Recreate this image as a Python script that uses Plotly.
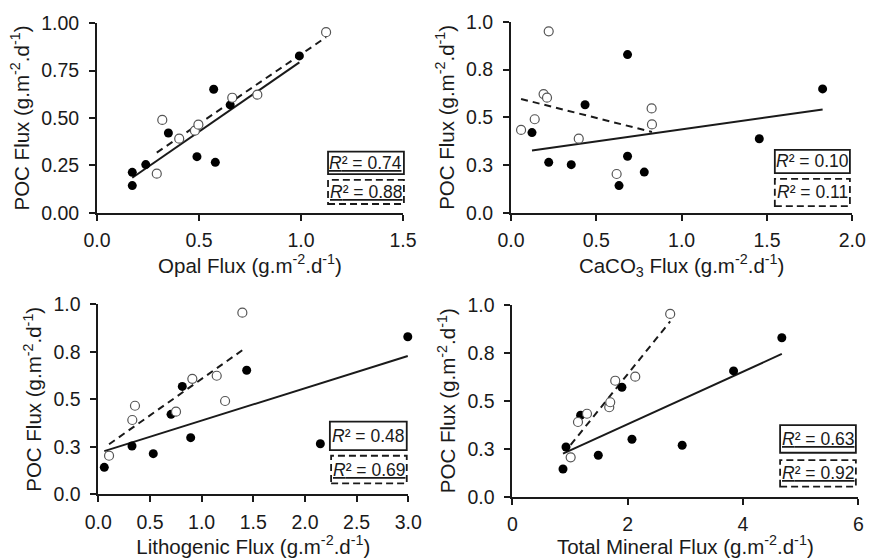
import numpy as np
import plotly.graph_objects as go

# POC flux (g m-2 d-1) against four mineral fluxes.
# "filled" = solid markers / solid regression, "open" = hollow markers / dashed regression.
opal_filled_x = [0.173, 0.173, 0.239, 0.350, 0.490, 0.580, 0.572, 0.653, 0.992]
opal_filled_y = [0.213, 0.143, 0.254, 0.421, 0.296, 0.266, 0.652, 0.569, 0.828]
opal_open_x = [0.293, 0.320, 0.403, 0.480, 0.497, 0.663, 0.786, 1.123]
opal_open_y = [0.206, 0.490, 0.391, 0.433, 0.465, 0.607, 0.623, 0.953]

caco3_filled_x = [0.123, 0.221, 0.353, 0.434, 0.683, 0.633, 0.683, 0.781, 1.455, 1.826]
caco3_filled_y = [0.420, 0.264, 0.252, 0.566, 0.296, 0.142, 0.829, 0.213, 0.388, 0.649]
caco3_open_x = [0.221, 0.191, 0.211, 0.139, 0.059, 0.397, 0.824, 0.826, 0.619]
caco3_open_y = [0.951, 0.622, 0.603, 0.490, 0.434, 0.388, 0.547, 0.463, 0.203]

litho_filled_x = [0.058, 0.326, 0.532, 0.704, 0.813, 0.894, 1.436, 2.149, 2.995]
litho_filled_y = [0.142, 0.254, 0.214, 0.421, 0.568, 0.298, 0.653, 0.266, 0.829]
litho_open_x = [0.104, 0.329, 0.355, 0.752, 0.910, 1.146, 1.227, 1.394]
litho_open_y = [0.203, 0.391, 0.466, 0.435, 0.608, 0.624, 0.491, 0.956]

mineral_filled_x = [0.879, 0.931, 1.185, 1.491, 1.901, 2.075, 2.946, 3.837, 4.674]
mineral_filled_y = [0.144, 0.259, 0.424, 0.216, 0.570, 0.299, 0.268, 0.655, 0.828]
mineral_open_x = [1.012, 1.139, 1.295, 1.681, 1.698, 1.785, 2.132, 2.738]
mineral_open_y = [0.205, 0.389, 0.432, 0.466, 0.492, 0.604, 0.625, 0.952]

# Coefficients of determination printed in each panel
r2_solid = ["0.74", "0.10", "0.48", "0.63"]
r2_dashed = ["0.88", "0.11", "0.69", "0.92"]

# Axis titles and tick labels
x_titles = [
    "Opal Flux (g.m<sup>-2</sup>.d<sup>-1</sup>)",
    "CaCO<sub>3</sub> Flux (g.m<sup>-2</sup>.d<sup>-1</sup>)",
    "Lithogenic Flux (g.m<sup>-2</sup>.d<sup>-1</sup>)",
    "Total Mineral Flux (g.m<sup>-2</sup>.d<sup>-1</sup>)",
]
y_title = "POC Flux (g.m<sup>-2</sup>.d<sup>-1</sup>)"
y_tickvals = [0.0, 0.25, 0.5, 0.75, 1.0]
y_ticktext_fine = ["0.00", "0.25", "0.50", "0.75", "1.00"]
y_ticktext_coarse = ["0.0", "0.3", "0.5", "0.8", "1.0"]
x_max = [1.5, 2.0, 3.0, 6.0]
x_dtick = [0.5, 0.5, 0.5, 2]

FONT = "Liberation Sans, Arial, sans-serif"
INK = "#1a1a1a"
W, H = 869, 558

panels = [
    dict(fx=opal_filled_x, fy=opal_filled_y, ox=opal_open_x, oy=opal_open_y,
         px=(97, 403), py=(23.3, 212.7), ul=(True, True), yt=y_ticktext_fine, xfmt=".1f"),
    dict(fx=caco3_filled_x, fy=caco3_filled_y, ox=caco3_open_x, oy=caco3_open_y,
         px=(511, 852.3), py=(22, 212.7), ul=(False, False), yt=y_ticktext_coarse, xfmt=".1f"),
    dict(fx=litho_filled_x, fy=litho_filled_y, ox=litho_open_x, oy=litho_open_y,
         px=(98.3, 408.3), py=(304.3, 494.3), ul=(False, True), yt=y_ticktext_coarse, xfmt=".1f"),
    dict(fx=mineral_filled_x, fy=mineral_filled_y, ox=mineral_open_x, oy=mineral_open_y,
         px=(512.3, 858.3), py=(304.7, 496.7), ul=(True, True), yt=y_ticktext_coarse, xfmt="d"),
]

# R² box placement inside each plot area (fractions of the axis domain)
box_solid = [(0.755, 1.003, 0.204, 0.322), (0.773, 0.993, 0.208, 0.329),
             (0.747, 0.995, 0.233, 0.382), (0.774, 0.993, 0.229, 0.373)]
box_dashed = [(0.755, 1.003, 0.046, 0.173), (0.773, 0.993, 0.035, 0.177),
              (0.751, 0.995, 0.058, 0.203), (0.774, 0.993, 0.052, 0.191)]

fig = go.Figure()
layout = dict(
    width=W, height=H, margin=dict(l=0, r=0, t=0, b=0),
    paper_bgcolor="white", plot_bgcolor="white", showlegend=False,
    font=dict(family=FONT, color=INK, size=18),
)
shapes, annotations = [], []


def fit_line(xs, ys):
    xs = np.asarray(xs, float)
    ys = np.asarray(ys, float)
    slope, icpt = np.polyfit(xs, ys, 1)
    xe = np.array([xs.min(), xs.max()])
    return xe, slope * xe + icpt


for i, p in enumerate(panels):
    n = "" if i == 0 else str(i + 1)
    xa, ya = "x" + n, "y" + n

    # regression lines (under the markers)
    lx, ly = fit_line(p["fx"], p["fy"])
    fig.add_trace(go.Scatter(x=lx, y=ly, mode="lines", xaxis=xa, yaxis=ya,
                             line=dict(color=INK, width=2), hoverinfo="skip"))
    lx, ly = fit_line(p["ox"], p["oy"])
    fig.add_trace(go.Scatter(x=lx, y=ly, mode="lines", xaxis=xa, yaxis=ya,
                             line=dict(color=INK, width=2, dash="7px,5px"), hoverinfo="skip"))

    fig.add_trace(go.Scatter(x=p["fx"], y=p["fy"], mode="markers", xaxis=xa, yaxis=ya,
                             cliponaxis=False,
                             marker=dict(size=9, color="black", line=dict(width=0))))
    fig.add_trace(go.Scatter(x=p["ox"], y=p["oy"], mode="markers", xaxis=xa, yaxis=ya,
                             cliponaxis=False,
                             marker=dict(size=9, color="white", line=dict(width=1.2, color="#555"))))

    axis_common = dict(showline=True, linecolor=INK, linewidth=1.8, ticks="outside",
                       ticklen=6, tickwidth=1.8, tickcolor=INK, showgrid=False,
                       zeroline=False, automargin=False, fixedrange=True,
                       tickfont=dict(family=FONT, size=19.5, color=INK))
    layout["xaxis" + n] = dict(
        axis_common, anchor=ya, range=[0, x_max[i]], dtick=x_dtick[i], tick0=0,
        tickformat=p["xfmt"], ticklabelstandoff=3,
        domain=[p["px"][0] / W, p["px"][1] / W],
        title=dict(text=x_titles[i], font=dict(family=FONT, size=20.5, color=INK), standoff=3),
    )
    layout["yaxis" + n] = dict(
        axis_common, anchor=xa, range=[0, 1],
        tickvals=y_tickvals, ticktext=p["yt"], ticklabelstandoff=6,
        domain=[1 - p["py"][1] / H, 1 - p["py"][0] / H],
        title=dict(text=y_title, font=dict(family=FONT, size=20.5, color=INK), standoff=6),
    )

    # R² boxes: solid for the filled series, dashed for the open series
    for (x0, x1, y0, y1), dash, val, ul in (
        (box_solid[i], "solid", r2_solid[i], p["ul"][0]),
        (box_dashed[i], "dash", r2_dashed[i], p["ul"][1]),
    ):
        shapes.append(dict(type="rect", xref=xa + " domain", yref=ya + " domain",
                           x0=x0, x1=x1, y0=y0, y1=y1,
                           line=dict(color=INK, width=1.8,
                                     dash="7px,4px" if dash == "dash" else "solid"),
                           fillcolor="white", layer="above"))
        txt = "<i>R</i>² = " + val
        if ul:
            txt = "<u>" + txt + "</u>"
        annotations.append(dict(xref=xa + " domain", yref=ya + " domain",
                                x=(x0 + x1) / 2, y=(y0 + y1) / 2, text=txt, showarrow=False,
                                xanchor="center", yanchor="middle",
                                font=dict(family=FONT, size=17.5, color=INK)))

layout["shapes"] = shapes
layout["annotations"] = annotations
fig.update_layout(**layout)
fig.write_html("out.html")
